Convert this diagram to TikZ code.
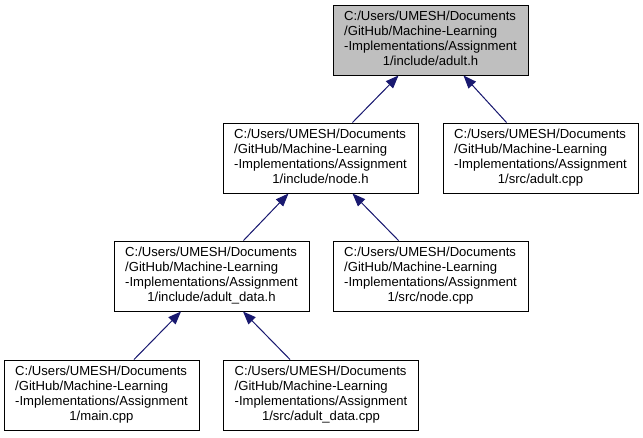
\documentclass[tikz,border=0pt]{standalone}
\usepackage{fontspec}
\setmainfont{Liberation Sans}
\usetikzlibrary{arrows.meta}
\definecolor{edgecol}{HTML}{191970}
\definecolor{grayfill}{HTML}{BFBFBF}
\newcommand{\flabel}[1]{\begin{tabular}{@{}l@{}}C:/Users/UMESH/Documents\\/GitHub/Machine-Learning\\-Implementations/Assignment\\\multicolumn{1}{@{}c@{}}{#1}\end{tabular}}
\begin{document}
\begin{tikzpicture}[x=1pt,y=-1pt,
  box/.style={draw=black,line width=1pt,fill=white,inner sep=0pt,
    minimum width=195pt,minimum height=70pt,
    font=\fontsize{13.1}{15}\selectfont},
  edge/.style={draw=edgecol,line width=1pt,-{Triangle[length=13pt,width=10pt]},fill=edgecol}]
\useasboundingbox (0,0) rectangle (643,437);
\node[box,fill=grayfill] (adulth) at (430.5,40) {\flabel{1/include/adult.h}};
\node[box] (nodeh) at (320.5,158) {\flabel{1/include/node.h}};
\node[box] (adultcpp) at (540.5,158) {\flabel{1/src/adult.cpp}};
\node[box] (adultdatah) at (211.5,276) {\flabel{1/include/adult\_data.h}};
\node[box] (nodecpp) at (430.5,276) {\flabel{1/src/node.cpp}};
\node[box] (maincpp) at (101.5,395) {\flabel{1/main.cpp}};
\node[box] (adultdatacpp) at (321,395) {\flabel{1/src/adult\_data.cpp}};
\draw[edge] ([xshift=32pt]nodeh.north) -- ([xshift=-32pt]adulth.south);
\draw[edge] ([xshift=-34pt]adultcpp.north) -- ([xshift=33pt]adulth.south);
\draw[edge] ([xshift=32pt]adultdatah.north) -- ([xshift=-32pt]nodeh.south);
\draw[edge] ([xshift=-32pt]nodecpp.north) -- ([xshift=32pt]nodeh.south);
\draw[edge] ([xshift=32.5pt]maincpp.north) -- ([xshift=-30.5pt]adultdatah.south);
\draw[edge] ([xshift=-31pt]adultdatacpp.north) -- ([xshift=31.5pt]adultdatah.south);
\end{tikzpicture}
\end{document}
